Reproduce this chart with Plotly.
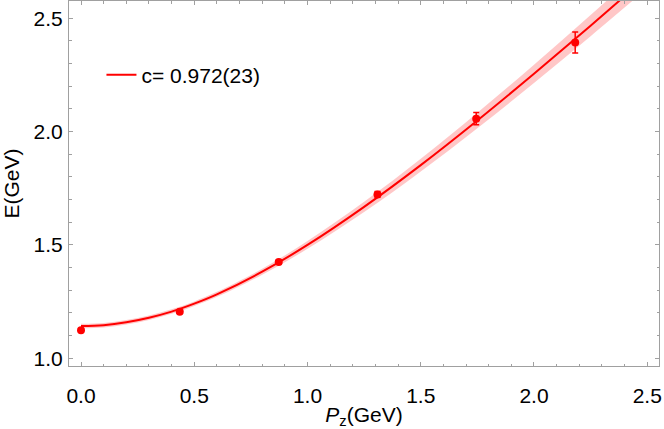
import plotly.graph_objects as go

# lattice data points: momentum Pz (GeV) and energy E (GeV) with errors
pz = [0.0, 0.436, 0.873, 1.309, 1.745, 2.182]
energy = [1.124, 1.205, 1.425, 1.723, 2.057, 2.393]
energy_err = [0.005, 0.006, 0.007, 0.013, 0.027, 0.046]

# fitted dispersion curve with its error band
curve_p = [0.0, 0.1, 0.2, 0.3, 0.4, 0.5, 0.6, 0.8, 1.0, 1.25, 1.5, 1.75, 2.0, 2.25, 2.5]
curve_e = [1.142, 1.146, 1.159, 1.179, 1.206, 1.241, 1.282, 1.382, 1.500, 1.668, 1.852,
           2.049, 2.255, 2.467, 2.685]
band_lo = [1.132, 1.136, 1.149, 1.169, 1.196, 1.231, 1.271, 1.369, 1.483, 1.645, 1.824,
           2.015, 2.214, 2.421, 2.632]
band_hi = [1.152, 1.156, 1.169, 1.189, 1.216, 1.251, 1.293, 1.395, 1.517, 1.690, 1.880,
           2.083, 2.295, 2.514, 2.738]

fit_label = "c= 0.972(23)"

red = "#ff0000"
frame = "#a0a0a0"
font = "Liberation Sans, Arial, sans-serif"

fig = go.Figure()

# error band
fig.add_trace(go.Scatter(x=curve_p, y=band_lo, mode="lines", line=dict(width=0, shape="spline"),
                         showlegend=False, hoverinfo="skip"))
fig.add_trace(go.Scatter(x=curve_p, y=band_hi, mode="lines", line=dict(width=0, shape="spline"),
                         fill="tonexty", fillcolor="rgba(255,0,0,0.22)", showlegend=False, hoverinfo="skip"))
# fit line
fig.add_trace(go.Scatter(x=curve_p, y=curve_e, mode="lines", name=fit_label,
                         line=dict(color=red, width=2, shape="spline")))
# data points
fig.add_trace(go.Scatter(x=pz, y=energy, mode="markers", showlegend=False,
                         marker=dict(color=red, size=8),
                         error_y=dict(type="data", array=energy_err, color=red, thickness=1.5, width=3)))

axis_common = dict(
    showline=True, linecolor=frame, linewidth=1, mirror="ticks",
    ticks="inside", ticklen=4, tickcolor=frame, tickwidth=1,
    showgrid=False, zeroline=False,
    tickfont=dict(size=21, color="black", family=font),
    minor=dict(ticks="inside", ticklen=2.5, tickcolor=frame, dtick=0.1, showgrid=False),
)

fig.update_xaxes(range=[-0.053, 2.552], tickvals=[0, 0.5, 1.0, 1.5, 2.0, 2.5],
                 ticktext=["0.0", "0.5", "1.0", "1.5", "2.0", "2.5"],
                 title=dict(text="<i>P</i><sub>z</sub>(GeV)", standoff=6,
                            font=dict(size=21, color="black", family=font)),
                 ticklabelstandoff=11, **axis_common)
fig.update_yaxes(range=[0.966, 2.576], tickvals=[1.0, 1.5, 2.0, 2.5],
                 ticktext=["1.0", "1.5", "2.0", "2.5"],
                 title=dict(text="E(GeV)", standoff=8,
                            font=dict(size=21, color="black", family=font)),
                 ticklabelstandoff=1, **axis_common)

fig.update_layout(
    width=664, height=429,
    margin=dict(l=69, r=5, t=1, b=63),
    plot_bgcolor="white", paper_bgcolor="white",
    font=dict(family=font, color="black"),
    legend=dict(x=0.055, y=0.797, xanchor="left", yanchor="middle",
                bgcolor="rgba(0,0,0,0)", font=dict(size=21, family=font, color="black")),
)

# drop the browser's default page margin so the figure sits at the top-left corner
fig.write_html("out.html", config={"displayModeBar": False},
               post_script="document.body.style.margin='0';")
